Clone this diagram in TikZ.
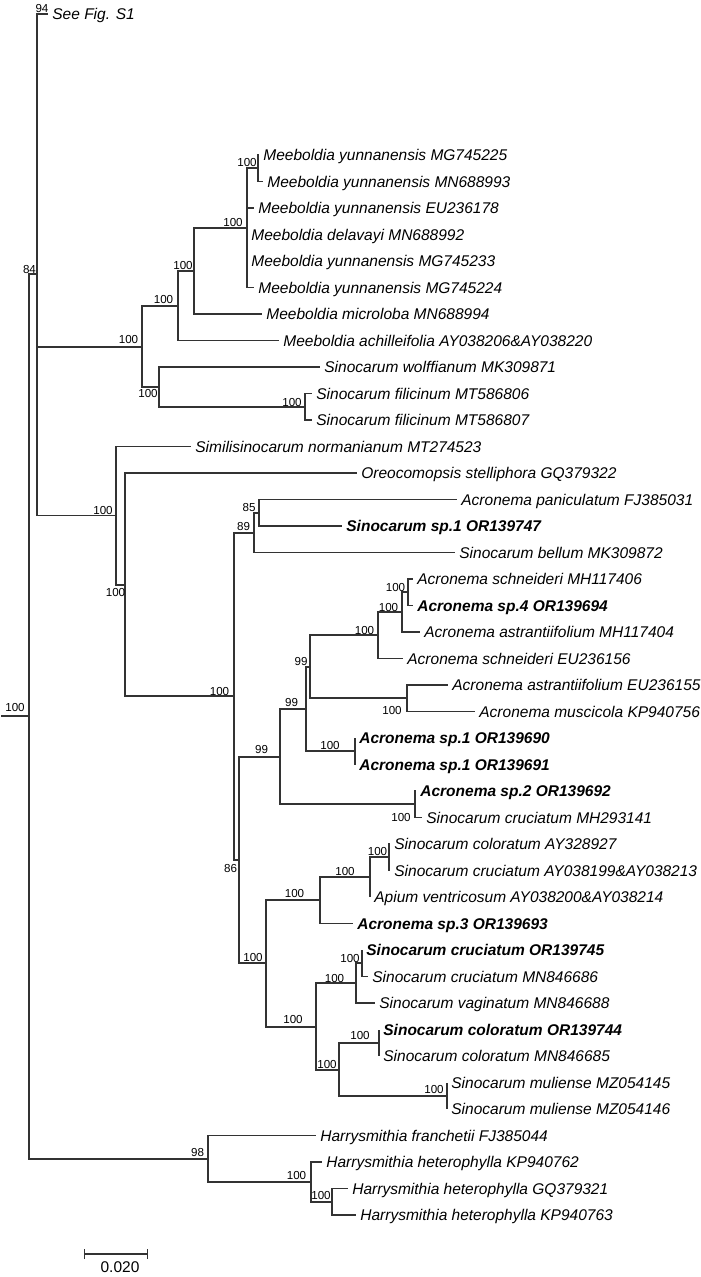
\documentclass[tikz,border=0pt]{standalone}
\usepackage{fontspec}
\setmainfont{Liberation Sans}
\usetikzlibrary{arrows.meta}
\definecolor{branchGray}{HTML}{333333}

\begin{document}
\begin{tikzpicture}[
    x=0.5pt, y=-0.5pt,
    branch/.style={draw=branchGray, line width=0.6pt},
    taxon/.style={anchor=west, inner sep=0pt, xshift=2pt, text height=5.55pt, text depth=0pt, font=\fontsize{7.75}{9}\selectfont\itshape},
    newtaxon/.style={taxon, font=\fontsize{7.75}{9}\selectfont\bfseries\itshape},
    boot/.style={inner sep=0pt, text height=4.15pt, text depth=0pt, font=\fontsize{5.8}{7}\selectfont},
]
    \useasboundingbox (0,0) rectangle (700,1277);

    % internal nodes
    \coordinate (base) at (1,716);
    \coordinate (root) at (29,716);
    \coordinate (c84) at (37,274);
    \coordinate (cMee) at (142,347);
    \coordinate (cMee4) at (178,306);
    \coordinate (cMee3) at (194,271);
    \coordinate (cMee2) at (247,228);
    \coordinate (cMee1) at (258,168);
    \coordinate (cSin) at (159,387);
    \coordinate (cFil) at (305,407);
    \coordinate (cE) at (116,515.5);
    \coordinate (cF) at (125,585);
    \coordinate (cG) at (234,696);
    \coordinate (cH) at (254,533);
    \coordinate (c85) at (259,513);
    \coordinate (cI) at (239,860);
    \coordinate (cJ) at (280,757);
    \coordinate (cK) at (306,709);
    \coordinate (cL) at (310,667);
    \coordinate (cQ) at (378,635);
    \coordinate (cS) at (402,612);
    \coordinate (cT) at (408,592);
    \coordinate (cR) at (407,698);
    \coordinate (cSp1) at (355,751);
    \coordinate (cU) at (415,804);
    \coordinate (cM) at (266,963);
    \coordinate (cV) at (320,900);
    \coordinate (cX) at (370,877);
    \coordinate (cY) at (389,857);
    \coordinate (cW) at (316,1027);
    \coordinate (cZ) at (356,983);
    \coordinate (cZA) at (362,963);
    \coordinate (cAA) at (339,1070);
    \coordinate (cAB) at (379,1043);
    \coordinate (cAC) at (447,1096);
    \coordinate (cHa) at (208,1159);
    \coordinate (cHb) at (311,1182);
    \coordinate (cHc) at (332,1202);

    % branches between internal nodes
    \draw[branch] (base) -- (root);
    \foreach \a/\b in {root/c84, root/cHa, c84/cMee, c84/cE, cMee/cMee4, cMee/cSin,
        cMee4/cMee3, cMee3/cMee2, cMee2/cMee1, cSin/cFil, cE/cF, cF/cG, cG/cH, cG/cI,
        cH/c85, cI/cJ, cI/cM, cJ/cK, cJ/cU, cK/cL, cK/cSp1, cL/cQ, cL/cR, cQ/cS, cS/cT,
        cM/cV, cM/cW, cV/cX, cX/cY, cW/cZ, cW/cAA, cZ/cZA, cAA/cAB, cAA/cAC, cHa/cHb, cHb/cHc}
        \draw[branch] (\a) |- (\b);

    % collapsed clade
    \coordinate (tip1) at (48,14);
    \draw[branch] (c84) |- (tip1);
    \node[taxon] (leaf1) at (tip1) {See Fig. S1};

    % leaves
    \foreach \k/\up/\tx/\sty/\txt in {
        2/cMee1/259/taxon/Meeboldia yunnanensis MG745225,
        3/cMee1/263/taxon/Meeboldia yunnanensis MN688993,
        4/cMee2/254/taxon/Meeboldia yunnanensis EU236178,
        5/cMee2/247/taxon/Meeboldia delavayi MN688992,
        6/cMee2/247/taxon/Meeboldia yunnanensis MG745233,
        7/cMee2/254/taxon/Meeboldia yunnanensis MG745224,
        8/cMee3/262/taxon/Meeboldia microloba MN688994,
        9/cMee4/279/taxon/Meeboldia achilleifolia AY038206\&AY038220,
        10/cSin/320/taxon/Sinocarum wolffianum MK309871,
        11/cFil/312/taxon/Sinocarum filicinum MT586806,
        12/cFil/312/taxon/Sinocarum filicinum MT586807,
        13/cE/191/taxon/Similisinocarum normanianum MT274523,
        14/cF/357/taxon/Oreocomopsis stelliphora GQ379322,
        15/c85/457/taxon/Acronema paniculatum FJ385031,
        16/c85/342/newtaxon/Sinocarum sp.1 OR139747,
        17/cH/455/taxon/Sinocarum bellum MK309872,
        18/cT/413/taxon/Acronema schneideri MH117406,
        19/cT/413/newtaxon/Acronema sp.4 OR139694,
        20/cS/420/taxon/Acronema astrantiifolium MH117404,
        21/cQ/403/taxon/Acronema schneideri EU236156,
        22/cR/448/taxon/Acronema astrantiifolium EU236155,
        23/cR/475/taxon/Acronema muscicola KP940756,
        24/cSp1/355/newtaxon/Acronema sp.1 OR139690,
        25/cSp1/355/newtaxon/Acronema sp.1 OR139691,
        26/cU/416/newtaxon/Acronema sp.2 OR139692,
        27/cU/422/taxon/Sinocarum cruciatum MH293141,
        28/cY/390/taxon/Sinocarum coloratum AY328927,
        29/cY/390/taxon/Sinocarum cruciatum AY038199\&AY038213,
        30/cX/370/taxon/Apium ventricosum AY038200\&AY038214,
        31/cV/353/newtaxon/Acronema sp.3 OR139693,
        32/cZA/362/newtaxon/Sinocarum cruciatum OR139745,
        33/cZA/368/taxon/Sinocarum cruciatum MN846686,
        34/cZ/375/taxon/Sinocarum vaginatum MN846688,
        35/cAB/379/newtaxon/Sinocarum coloratum OR139744,
        36/cAB/379/taxon/Sinocarum coloratum MN846685,
        37/cAC/447/taxon/Sinocarum muliense MZ054145,
        38/cAC/447/taxon/Sinocarum muliense MZ054146,
        39/cHa/316/taxon/Harrysmithia franchetii FJ385044,
        40/cHb/322/taxon/Harrysmithia heterophylla KP940762,
        41/cHc/348/taxon/Harrysmithia heterophylla GQ379321,
        42/cHc/356/taxon/Harrysmithia heterophylla KP940763}{
        \pgfmathsetmacro\ly{155+(\k-2)*26.5}
        \coordinate (tip\k) at (\tx,\ly);
        \draw[branch] (\up) |- (tip\k);
        \node[\sty] (leaf\k) at (tip\k) {\txt};
    }

    % bootstrap values
    \foreach \nm/\px/\py/\val in {root/15/707/100, S1/42/8/94, 84/29.5/269/84,
        Mee/128.5/339.5/100, Mee4/163.5/299/100, Mee3/183/265.5/100, Mee2/233/222/100,
        Mee1/247/162.5/100, Sin/148/393/100, Fil/292/402/100, E/103/510/100, F/115.5/592/100,
        G/219.5/691/100, H/243.5/526.5/89, 85/249/507.5/85, I/230.5/868/86, J/261.5/749.5/99,
        K/291.5/702.5/99, L/301/661/99, Q/364.5/630.5/100, S/388.5/607/100, T/395.5/587/100,
        R/392/710.5/100, Sp1/330/745/100, U/401/817.5/100, M/253/957/100, V/294.5/893/100,
        X/345/871/100, Y/377.5/851.5/100, W/293/1019/100, Z/334.5/978/100, ZA/350/958/100,
        AA/327/1064/100, AB/360/1035/100, AC/434/1089/100, Ha/197.5/1152/98,
        Hb/296.5/1175.5/100, Hc/321/1195.5/100}
        \node[boot] (b\nm) at (\px,\py) {\val};

    % scale bar
    \coordinate (sbL) at (84,1254);
    \coordinate (sbR) at (148,1254);
    \draw[branch, {Bar[width=5pt]}-{Bar[width=5pt]}] (sbL) -- (sbR);
    \node[inner sep=0pt, font=\fontsize{7.75}{9}\selectfont] (sbText) at (120,1267) {0.020};
\end{tikzpicture}
\end{document}
